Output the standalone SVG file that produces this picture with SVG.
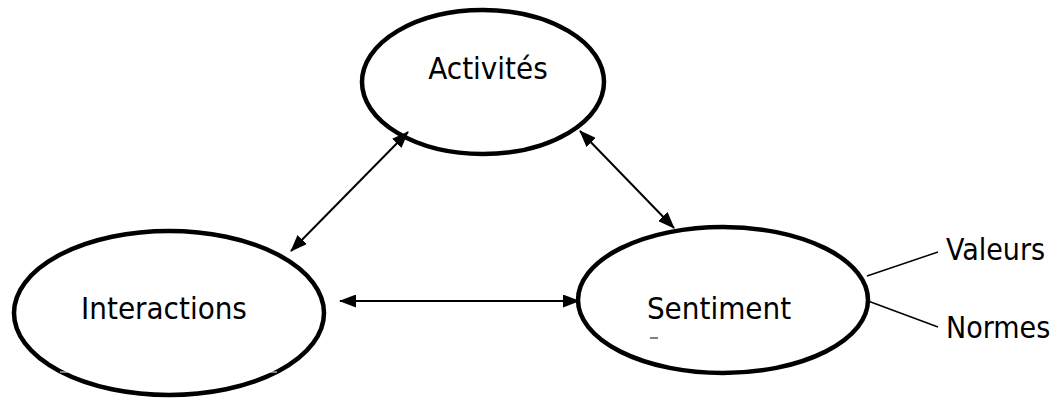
<svg xmlns="http://www.w3.org/2000/svg" width="1060" height="399" viewBox="0 0 1060 399">
<style>
.node{fill:#fff;stroke:#000;stroke-width:4.5}
.lbl{font-family:"DejaVu Sans Condensed","DejaVu Sans",sans-serif;font-stretch:condensed;font-size:31px;fill:#000;text-anchor:middle}
.side{font-family:"DejaVu Sans Condensed","DejaVu Sans",sans-serif;font-stretch:condensed;font-size:30px;fill:#000}
.arr{stroke:#000;stroke-width:2;fill:none;marker-start:url(#ah);marker-end:url(#ah)}
.tie{stroke:#000;stroke-width:1.5}
</style>
<defs>
<marker id="ah" viewBox="0 0 17 13" refX="16" refY="6.5" markerWidth="17" markerHeight="13" markerUnits="userSpaceOnUse" orient="auto-start-reverse">
<path d="M0,0 L17,6.5 L0,13 Z" fill="#000"/>
</marker>
</defs>
<rect width="1060" height="399" fill="#fff"/>
<g id="activites">
<ellipse class="node" cx="483" cy="82" rx="121" ry="72"/>
<text class="lbl" x="488" y="79">Activités</text>
</g>
<g id="interactions">
<ellipse class="node" cx="169" cy="313" rx="155" ry="82"/>
<line x1="60" y1="372" x2="277" y2="372" stroke="#fff" stroke-width="1"/>
<text class="lbl" x="164" y="319">Interactions</text>
</g>
<g id="sentiment">
<ellipse class="node" cx="723" cy="300" rx="145" ry="73"/>
<text class="lbl" x="719" y="319">Sentiment</text>
<line x1="650" y1="338" x2="658" y2="338" stroke="#000" stroke-width="1"/>
</g>
<g id="valeurs">
<text class="side" x="946" y="260">Valeurs</text>
</g>
<g id="normes">
<text class="side" x="946" y="338">Normes</text>
</g>
<g id="connectors">
<line class="arr" x1="408" y1="132" x2="291" y2="251"/>
<line class="arr" x1="580" y1="131" x2="674" y2="228"/>
<line class="arr" x1="340" y1="301" x2="579" y2="301"/>
<line class="tie" x1="867" y1="276" x2="938" y2="252"/>
<line class="tie" x1="868" y1="301" x2="938" y2="327"/>
</g>
</svg>
